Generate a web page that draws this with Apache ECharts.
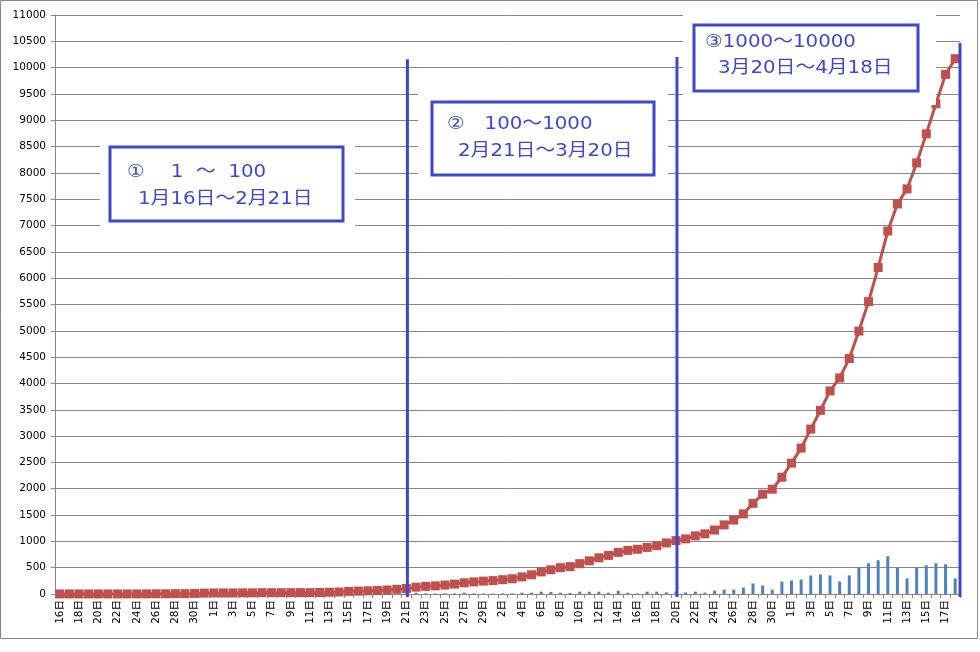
<!DOCTYPE html>
<html>
<head>
<meta charset="utf-8">
<script src="https://cdn.jsdelivr.net/npm/echarts@6.0.0/dist/echarts.min.js"></script>
<style>
html,body{margin:0;padding:0;background:#fff;}
#main{width:980px;height:652px;}
</style>
</head>
<body>
<div id="main"></div>
<script>
// 日付（1/16〜4/18）
var dates = [
  '1/16','1/17','1/18','1/19','1/20','1/21','1/22','1/23','1/24','1/25','1/26','1/27','1/28','1/29','1/30','1/31',
  '2/1','2/2','2/3','2/4','2/5','2/6','2/7','2/8','2/9','2/10','2/11','2/12','2/13','2/14','2/15','2/16','2/17','2/18','2/19','2/20','2/21','2/22','2/23','2/24','2/25','2/26','2/27','2/28','2/29',
  '3/1','3/2','3/3','3/4','3/5','3/6','3/7','3/8','3/9','3/10','3/11','3/12','3/13','3/14','3/15','3/16','3/17','3/18','3/19','3/20','3/21','3/22','3/23','3/24','3/25','3/26','3/27','3/28','3/29','3/30','3/31',
  '4/1','4/2','4/3','4/4','4/5','4/6','4/7','4/8','4/9','4/10','4/11','4/12','4/13','4/14','4/15','4/16','4/17','4/18'
];
// 累計
var total = [
  1,1,1,1,1,1,1,1,2,3,4,4,7,7,11,17,
  20,20,20,22,22,25,25,25,25,26,26,28,33,38,50,55,60,66,76,90,105,130,145,155,170,188,213,230,245,
  255,272,290,325,365,420,460,500,520,576,630,688,734,790,828,850,885,918,970,1015,1047,1105,1143,1215,1313,1405,1522,1722,1895,1991,2219,
  2486,2772,3134,3489,3858,4105,4473,4995,5555,6203,6896,7410,7696,8190,8742,9313,9872,10170
];
// 日別
var daily = [
  1,0,0,0,0,0,0,0,1,1,1,0,3,0,4,6,
  3,0,0,2,0,3,0,0,0,1,0,2,5,5,8,5,5,6,8,9,12,25,12,10,12,12,25,12,10,
  8,12,12,25,25,44,40,25,20,44,44,44,25,63,25,12,44,44,32,44,30,44,26,64,83,83,122,200,160,83,237,
  256,276,353,372,353,237,353,500,583,641,718,500,295,500,545,583,564,295
];
// 区切り線（日付と上端の値）
var splitDays = ['2/21', '3/20'];
var splitTops = [10160, 10200];
var lastTop = 10470;

var blue = '#3F48CC';
var chart = echarts.init(document.getElementById('main'));

var option = {
  animation: false,
  backgroundColor: '#fff',
  grid: {left: 55, right: 20, top: 15, bottom: 58},
  xAxis: {
    type: 'category',
    data: dates,
    axisLine: {lineStyle: {color: '#888', width: 1}},
    axisTick: {show: true, interval: 0, length: 4, lineStyle: {color: '#888'}},
    axisLabel: {
      interval: 1,
      rotate: 90,
      margin: 6,
      color: '#000',
      fontSize: 10.5,
      fontFamily: 'DejaVu Sans, Noto Sans CJK JP',
      formatter: function (v) { return v.split('/')[1] + '日'; }
    },
    splitLine: {show: false}
  },
  yAxis: {
    type: 'value',
    min: 0,
    max: 11000,
    interval: 500,
    axisLine: {show: true, lineStyle: {color: '#888'}},
    axisTick: {show: true, length: 4, lineStyle: {color: '#888'}},
    axisLabel: {
      color: '#000', fontSize: 10.5, fontFamily: 'DejaVu Sans', margin: 9,
      formatter: function (v) { return String(v); }
    },
    splitLine: {lineStyle: {color: '#878787', width: 1}}
  },
  series: [
    {
      type: 'bar',
      data: daily,
      barWidth: 3,
      itemStyle: {color: '#4F81BD'}
    },
    {
      type: 'line',
      data: total,
      symbol: 'rect',
      symbolSize: 9,
      showAllSymbol: true,
      lineStyle: {color: '#C0504D', width: 3},
      itemStyle: {color: '#C0504D'},
      z: 3
    }
  ]
};
chart.setOption(option);

// 区切り線の位置（軸の座標から）
var yb = chart.convertToPixel({yAxisIndex: 0}, 0) + 3;
var vlines = splitDays.map(function (d, i) {
  var x = chart.convertToPixel({xAxisIndex: 0}, d) + 1;
  var y = chart.convertToPixel({yAxisIndex: 0}, splitTops[i]);
  return {type: 'line', z: 60, shape: {x1: x, y1: y, x2: x, y2: yb}, style: {stroke: blue, lineWidth: 3}};
});
var p1 = chart.convertToPixel({xAxisIndex: 0}, dates[dates.length - 1]);
var p0 = chart.convertToPixel({xAxisIndex: 0}, dates[dates.length - 2]);
var xr = p1 + (p1 - p0) / 2;
var yt = chart.convertToPixel({yAxisIndex: 0}, lastTop);
vlines.push({type: 'line', z: 60, shape: {x1: xr, y1: yt, x2: xr, y2: yb}, style: {stroke: blue, lineWidth: 3}});

var txt = {fill: blue, fontSize: 18, fontFamily: 'DejaVu Sans, Noto Sans CJK JP', verticalAlign: 'middle'};
function label(x, y, s) {
  return {type: 'text', x: x, y: y, z: 102, scaleX: 1.1, style: Object.assign({text: s}, txt)};
}
function pad(x, y, w, h) {
  return {type: 'rect', z: 100, shape: {x: x, y: y, width: w, height: h}, style: {fill: '#fff'}};
}
function box(x, y, w, h) {
  return {type: 'rect', z: 101, shape: {x: x, y: y, width: w, height: h}, style: {fill: '#fff', stroke: blue, lineWidth: 3}};
}

chart.setOption({
  graphic: [
    {type: 'rect', z: 50, shape: {x: 0.5, y: 0.5, width: 977, height: 638}, style: {fill: 'none', stroke: '#888', lineWidth: 1}},
    pad(100, 137, 255, 95),
    box(110, 147, 233, 74),
    label(127, 172, '①　 1  ～  100'),
    label(138, 199, '1月16日～2月21日'),
    pad(418, 88, 250, 98),
    box(432, 102, 222, 73),
    label(447, 124, '②　100～1000'),
    label(458, 151, '2月21日～3月20日'),
    pad(683, 5, 253, 100),
    box(694, 25, 224, 66),
    label(705, 42, '③1000～10000'),
    label(718, 68, '3月20日～4月18日')
  ].concat(vlines)
});
</script>
</body>
</html>
